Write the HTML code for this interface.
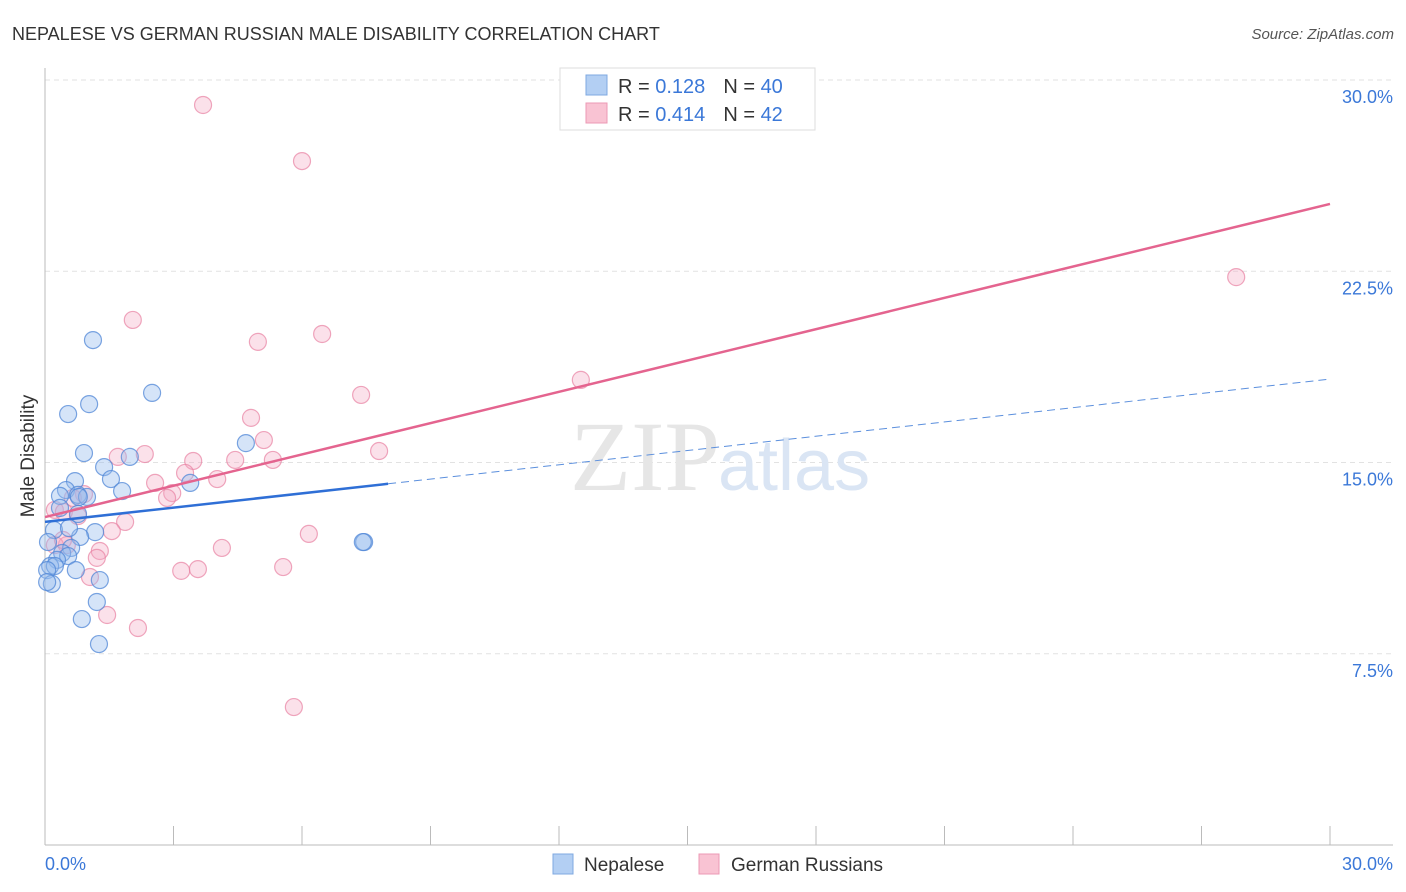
<!DOCTYPE html>
<html><head><meta charset="utf-8"><style>
body{margin:0;background:#fff;font-family:"Liberation Sans",sans-serif;}
svg{display:block}
</style></head><body>
<svg id="chart" width="1406" height="892" xmlns="http://www.w3.org/2000/svg">
<text x="12" y="40" font-size="18" fill="#333">NEPALESE VS GERMAN RUSSIAN MALE DISABILITY CORRELATION CHART</text>
<text x="1394" y="39" font-size="15" fill="#555" font-style="italic" text-anchor="end">Source: ZipAtlas.com</text>
<g id="grid"></g>
<text x="720" y="490" font-size="100" fill="#e6e6e6" text-anchor="end" font-family="Liberation Serif,serif">ZIP</text>
<text x="718" y="490" font-size="72" fill="#dae5f4">atlas</text>
<g id="axes"></g>
<g id="points"></g>
<g id="lines"></g>
<g>
<rect x="560" y="68" width="255" height="62" fill="#fff" stroke="#ddd"/>
<rect x="586" y="75" width="21" height="20" fill="#b3cff3" stroke="#7fa8e0"/>
<rect x="586" y="103" width="21" height="20" fill="#f9c3d3" stroke="#ec9ab4"/>
<text x="618" y="93" font-size="20" fill="#333">R = <tspan fill="#3b78d8"> 0.128</tspan><tspan dx="18">N = </tspan><tspan fill="#3b78d8"> 40</tspan></text>
<text x="618" y="121" font-size="20" fill="#333">R = <tspan fill="#3b78d8">0.414</tspan><tspan dx="18">N = </tspan><tspan fill="#3b78d8"> 42</tspan></text>
</g>
<g>
<rect x="553" y="854" width="20" height="20" fill="#b3cff3" stroke="#7fa8e0"/>
<text x="584" y="871" font-size="19" fill="#333">Nepalese</text>
<rect x="699" y="854" width="20" height="20" fill="#f9c3d3" stroke="#ec9ab4"/>
<text x="731" y="871" font-size="19" fill="#333">German Russians</text>
</g>
<text transform="translate(34,456) rotate(-90)" font-size="19" fill="#333" text-anchor="middle">Male Disability</text>
</svg>
<script>
const yTicks=[7.5,15,22.5,30];
const yTickLabels=["7.5%","15.0%","22.5%","30.0%"];
const xTickCount=10;
const nepaleseX=[1.12,2.50,1.03,0.54,0.91,1.98,4.69,1.38,1.54,0.70,3.39,1.80,0.49,0.35,0.77,0.98,0.79,0.35,0.77,0.21,1.17,0.82,0.56,0.07,0.61,0.40,0.54,0.28,0.12,0.23,0.05,0.72,0.16,0.05,1.28,1.21,0.86,1.26,7.45,7.42];
const nepaleseY=[19.80,17.73,17.29,16.90,15.37,15.22,15.76,14.82,14.35,14.27,14.20,13.88,13.92,13.69,13.73,13.65,13.65,13.22,12.98,12.35,12.27,12.08,12.43,11.88,11.65,11.45,11.33,11.18,10.94,10.94,10.78,10.78,10.24,10.31,10.39,9.53,8.86,7.88,11.88,11.88];
const germanX=[3.69,6.00,27.81,2.05,6.47,4.97,12.51,7.38,4.81,5.11,7.80,1.70,2.33,3.46,4.44,5.32,3.27,4.02,2.57,2.97,2.85,0.91,0.65,0.23,0.44,0.77,1.87,1.56,6.16,4.13,1.28,1.21,0.51,0.23,3.18,3.57,5.56,1.05,1.45,2.17,5.81,0.42];
const germanY=[29.02,26.82,22.27,20.59,20.04,19.73,18.24,17.65,16.75,15.88,15.45,15.22,15.33,15.06,15.10,15.10,14.59,14.35,14.20,13.80,13.61,13.76,13.61,13.14,13.06,12.90,12.67,12.31,12.20,11.65,11.53,11.26,11.76,11.76,10.75,10.82,10.90,10.51,9.02,8.51,5.41,11.96];
const nepaleseTrend=[12.67,18.27]; const nepaleseSolidEnd=8.01;
const germanTrend=[12.86,25.14];
const NS="http://www.w3.org/2000/svg";
const X0=45,X1=1330,Y0=845,YTOP=80;
const sx=v=>X0+(v/30)*(X1-X0);
const sy=v=>Y0-(v/30)*(Y0-YTOP);
function mk(tag,attrs,parent){const e=document.createElementNS(NS,tag);for(const k in attrs)e.setAttribute(k,attrs[k]);parent.appendChild(e);return e;}
const grid=document.getElementById('grid'),axes=document.getElementById('axes');
yTicks.forEach((t,i)=>{
 const l=mk('line',{x1:X0,x2:1393,y1:sy(t),y2:sy(t),stroke:'#e2e2e2','stroke-dasharray':'5,4'},grid);
 
 
 const tx=mk('text',{x:1393,y:sy(t)+23,'font-size':18,fill:'#3b78d8','text-anchor':'end'},axes);
 tx.textContent=yTickLabels[i];
 
 
});
mk('line',{x1:X0,x2:X0,y1:68,y2:Y0,stroke:'#bbb'},axes);
mk('line',{x1:X0,x2:1393,y1:Y0,y2:Y0,stroke:'#bbb'},axes);
for(let i=0;i<=xTickCount;i++){
 const x=sx(i*30/xTickCount);
 const t=mk('line',{x1:x,x2:x,y1:826,y2:Y0,stroke:'#bbb'},axes);
 
 
}
const xl=mk('text',{x:45,y:870,'font-size':18,fill:'#3b78d8'},axes);xl.textContent='0.0%';


const xr=mk('text',{x:1393,y:870,'font-size':18,fill:'#3b78d8','text-anchor':'end'},axes);xr.textContent='30.0%';


const pts=document.getElementById('points');
germanX.forEach((v,i)=>{
 const c=mk('circle',{cx:sx(v),cy:sy(germanY[i]),r:8.5,fill:'rgba(244,170,195,0.35)',stroke:'rgba(232,130,162,0.7)','stroke-width':1.2},pts);
 
 
});
nepaleseX.forEach((v,i)=>{
 const c=mk('circle',{cx:sx(v),cy:sy(nepaleseY[i]),r:8.5,fill:'rgba(150,188,238,0.4)',stroke:'rgba(80,135,215,0.75)','stroke-width':1.2},pts);
 
 
});
const ln=document.getElementById('lines');
const yAt=(tr,x)=>tr[0]+(tr[1]-tr[0])*x/30;
const a=mk('line',{x1:sx(0),y1:sy(nepaleseTrend[0]),x2:sx(nepaleseSolidEnd),y2:sy(yAt(nepaleseTrend,nepaleseSolidEnd)),stroke:'#2f6fd6','stroke-width':2.5},ln);


const b=mk('line',{x1:sx(nepaleseSolidEnd),y1:sy(yAt(nepaleseTrend,nepaleseSolidEnd)),x2:sx(30),y2:sy(nepaleseTrend[1]),stroke:'#5b8fdd','stroke-width':1,'stroke-dasharray':'8,5'},ln);


const g=mk('line',{x1:sx(0),y1:sy(germanTrend[0]),x2:sx(30),y2:sy(germanTrend[1]),stroke:'#e4648f','stroke-width':2.5},ln);


</script>
</body></html>
